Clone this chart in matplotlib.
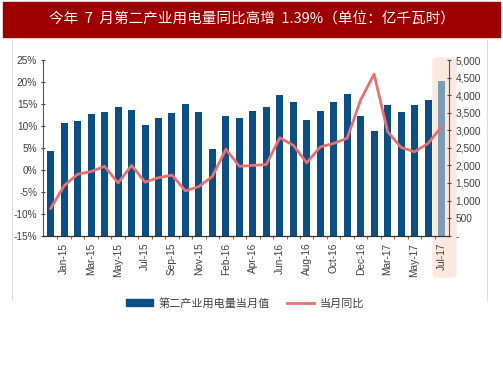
import matplotlib.pyplot as plt
import matplotlib.patches as mpatches
from matplotlib.ticker import FuncFormatter
import numpy as np

plt.rcParams['font.family'] = ['Noto Sans CJK SC', 'DejaVu Sans']

# 30 monthly points, ticks labelled on every second bar
months = ['Dec-14', 'Jan-15', 'Feb-15', 'Mar-15', 'Apr-15', 'May-15', 'Jun-15', 'Jul-15',
          'Aug-15', 'Sep-15', 'Oct-15', 'Nov-15', 'Dec-15', 'Feb-16', 'Mar-16', 'Apr-16',
          'May-16', 'Jun-16', 'Jul-16', 'Aug-16', 'Sep-16', 'Oct-16', 'Nov-16', 'Dec-16',
          'Feb-17', 'Mar-17', 'Apr-17', 'May-17', 'Jun-17', 'Jul-17']
tick_labels = ['Jan-15', 'Mar-15', 'May-15', 'Jul-15', 'Sep-15', 'Nov-15', 'Feb-16', 'Apr-16',
               'Jun-16', 'Aug-16', 'Oct-16', 'Dec-16', 'Mar-17', 'May-17', 'Jul-17']

# monthly consumption (亿千瓦时), right axis
usage = [2420, 3200, 3265, 3455, 3520, 3670, 3570, 3150, 3340, 3490, 3750, 3520, 2460, 3415, 3340,
         3557, 3670, 4005, 3815, 3300, 3557, 3815, 4040, 3415, 2970, 3710, 3520, 3710, 3850, 4400]
# yoy growth (%), left axis
yoy = [-8.8, -3.6, -1.0, -0.4, 0.8, -3.0, 1.0, -2.8, -1.8, -1.2, -4.8, -3.8, -1.5, 4.7, 0.8,
       1.0, 1.2, 7.3, 5.6, 1.6, 5.2, 6.0, 7.2, 15.9, 21.8, 8.7, 5.1, 4.1, 6.0, 9.8]

bar_color = '#0b4f85'
line_color = '#e8706f'
txt_color = '#404040'

fig = plt.figure(figsize=(5.03, 3.78), dpi=100)

# title banner
fig.patches.append(mpatches.Rectangle((3 / 503, 1 - 37 / 378), 497 / 503, 35 / 378,
                                      transform=fig.transFigure, color='#9c0000', zorder=0))
fig.text(0.5, 1 - 19.5 / 378, '今年  7  月第二产业用电量同比高增  1.39%（单位：亿千瓦时）',
         color='white', ha='center', va='center', fontsize=10.5)

# faint frame lines
for xx in (12 / 503, 486.5 / 503):
    fig.add_artist(plt.Line2D([xx, xx], [1 - 40 / 378, 1 - 300 / 378],
                              transform=fig.transFigure, color='#dddddd', lw=0.8))

ax = fig.add_axes([43.3 / 503, 1 - 235.7 / 378, 406 / 503, 175.7 / 378])
ax2 = ax.twinx()
ax.set_zorder(ax2.get_zorder() + 1)
ax.patch.set_visible(False)

x = np.arange(len(months))

# highlight behind the last month
hl = mpatches.FancyBboxPatch((433 / 503, 1 - 277 / 378), 23 / 503, 219 / 378,
                             boxstyle='round,pad=0,rounding_size=0.01',
                             transform=fig.transFigure, color='#fbe9e0', zorder=-1)
fig.patches.append(hl)

colors = [bar_color] * (len(x) - 1) + ['#7d9db4']
ax2.bar(x, usage, width=0.52, color=colors, zorder=2)
ax2.set_ylim(0, 5000)
ax2.set_yticks(np.arange(0, 5001, 500))
ax2.yaxis.set_major_formatter(FuncFormatter(lambda v, p: '-' if v == 0 else f'{int(v):,}'))

ax.plot(x, yoy, color=line_color, lw=2, solid_joinstyle='round', zorder=3)
ax.set_ylim(-15, 25)
ax.set_yticks(np.arange(-15, 26, 5))
ax.yaxis.set_major_formatter(FuncFormatter(lambda v, p: f'{int(v)}%'))

ax.set_xlim(-0.55, 29.58)
ax.set_xticks(x[1::2])
ax.set_xticklabels(tick_labels, rotation=90, fontsize=7.3, color=txt_color,
                   family=['Liberation Sans', 'DejaVu Sans'])
ax.set_xticks(x[:-1] + 0.5, minor=True)
ax.tick_params(axis='x', which='major', length=0, pad=5)
ax.tick_params(axis='x', which='minor', length=2, color='#555555')

for a in (ax, ax2):
    a.spines['top'].set_visible(False)
    a.spines['left'].set_color('#555555')
    a.spines['right'].set_color('#555555')
    a.spines['bottom'].set_color('#333333')
ax.spines['right'].set_visible(False)
ax2.spines['left'].set_visible(False)

ax.tick_params(axis='y', labelsize=7.3, colors=txt_color, length=3, direction='inout', pad=3)
ax2.tick_params(axis='y', labelsize=7.3, colors=txt_color, length=3, direction='inout', pad=3)
for lbl in ax.get_yticklabels() + ax2.get_yticklabels():
    lbl.set_family(['Liberation Sans', 'DejaVu Sans'])
    lbl.set_color(txt_color)

handles = [mpatches.Patch(color=bar_color, label='第二产业用电量当月值'),
           plt.Line2D([], [], color=line_color, lw=2, label='当月同比')]
fig.legend(handles=handles, loc='center', bbox_to_anchor=(0.487, 1 - 303 / 378), ncol=2,
           frameon=False, fontsize=8, handlelength=2.4, handleheight=0.6, handletextpad=0.5,
           columnspacing=1.6, labelcolor=txt_color)

fig.savefig('out.png', dpi=100)
